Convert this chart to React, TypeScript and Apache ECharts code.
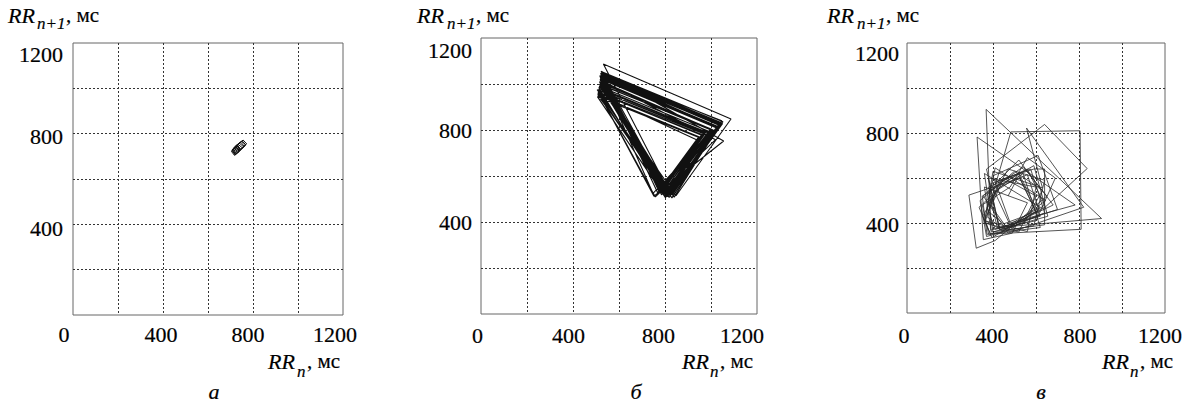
import React, { useEffect, useRef } from "react";
import * as echarts from "echarts";

// ---- data ----
const AXIS_MIN = 0;
const AXIS_MAX = 1200;
const GRID_STEP = 200;
const X_TICK_LABELS = [0, 400, 800, 1200];
const Y_TICK_LABELS = [400, 800, 1200];
const CAPTIONS = ["а", "б", "в"];
const Y_NAME = { main: "RR", sub: "n+1", unit: ", мс" };
const X_NAME = { main: "RR", sub: "n", unit: ", мс" };

// panel а: RR interval series (ms)
const RR_A = [
  722, 708, 725, 740, 726, 712, 735, 752, 738, 722, 746, 762, 744, 730, 752,
  768, 750, 734, 718, 704, 722, 738, 720, 706, 728, 745, 731, 716, 740, 758,
  742, 727, 748, 766, 753, 737, 721, 710, 730, 746, 732, 717, 738, 756, 772,
  755, 739, 724, 712, 726,
];

// panel б: RR interval series (ms), period-3 rhythm
const RR_B = [
  520, 1040, 820, 515, 1010, 800, 525, 1045, 830, 505, 975, 785, 518, 1030, 815,
  522, 1055, 752, 512, 960, 780, 528, 1035, 810, 516, 1000, 800, 520, 1047, 840,
  508, 950, 770, 524, 1040, 818, 532, 1087, 848, 514, 990, 795, 521, 1042, 822,
  517, 1020, 758, 509, 965, 785, 526, 1050, 828, 519, 1025, 812, 513, 972, 790,
  523, 1038, 820, 518, 1005, 802, 506, 945, 768, 527, 1044, 826, 520, 1030, 815,
  516, 1036, 808, 522, 1012, 798, 512, 985, 788, 525, 1046, 832, 519, 1022, 810,
  510, 962, 776, 528, 1052, 836, 515, 998, 805, 521, 1040, 818, 507, 958, 748,
  524, 1033, 824, 518, 1008, 800, 512, 978, 792, 526, 1048, 830, 520,
];

// panel в: RR interval series (ms), irregular rhythm
const RR_V = [
  470, 520, 610, 430, 380, 560, 640, 480, 370, 340, 500, 630, 545, 400, 360,
  620, 470, 390, 368, 905, 420, 380, 540, 650, 520, 410, 322, 288, 524, 600,
  450, 370, 430, 590, 640, 640, 392, 360, 560, 490, 355, 326, 782, 480, 400,
  610, 700, 460, 385, 483, 805, 810, 372, 350, 520, 620, 430, 378, 600, 560,
  362, 410, 645, 500, 395, 335, 470, 590, 655, 430, 370, 640, 838, 642, 470,
  380, 450, 600, 520, 360, 400, 630, 556, 822, 470, 355, 520, 680, 480, 390,
  575, 640, 445, 365, 410, 540, 620, 380, 350, 480, 560, 690, 600, 410, 372,
  470, 640, 590, 388, 352, 430, 560, 615, 455, 398,
];

const SERIES = [RR_A, RR_B, RR_V];

// ---- layout (positions & styles) ----
const LAYOUT = [
  {
    left: 73, top: 43, width: 270, height: 272,
    xMargin: 8, yMargin: 10,
    xShift: [-9, -2, -5, -8], yShift: [4, 2.5, 11.5],
    yName: [8, 37, 66], xName: [268, 297, 307], caption: 214,
    color: "#111", lw: 1,
  },
  {
    left: 481, top: 38, width: 276, height: 276,
    xMargin: 10, yMargin: 9,
    xShift: [-3.5, -4.5, -6.5, -15], yShift: [0.5, 0.7, 12.5],
    yName: [417, 447, 476], xName: [682, 710, 720], caption: 636,
    color: "#111", lw: 1.1,
  },
  {
    left: 907, top: 43, width: 261, height: 270,
    xMargin: 11, yMargin: 8,
    xShift: [-3, -1, 1, -5], yShift: [1.5, 0.5, 10.5],
    yName: [827, 857, 886], xName: [1102, 1130, 1140], caption: 1041,
    color: "#2a2a2a", lw: 0.8,
  },
];

const FONT = "'Liberation Serif', 'Times New Roman', serif";
const TEXT_COLOR = "#000";
const TICK_FONT_SIZE = 22;
const TEXT_BOLDEN = { textBorderColor: "#000", textBorderWidth: 0.2 };

function poincare(rr: number[]): number[][] {
  return rr.slice(0, -1).map((v, i) => [v, rr[i + 1]]);
}

function buildOption() {
  const grid: any[] = [];
  const xAxis: any[] = [];
  const yAxis: any[] = [];
  const series: any[] = [];
  const graphic: any[] = [];

  const split = {
    show: true,
    showMinLine: false,
    showMaxLine: false,
    lineStyle: { type: [2, 2], color: "#333", width: 1 },
  };

  LAYOUT.forEach((L, i) => {
    grid.push({
      left: L.left, top: L.top, width: L.width, height: L.height,
      show: true, borderColor: "#666", borderWidth: 1, backgroundColor: "transparent",
      containLabel: false,
    });

    const xRich: any = {};
    X_TICK_LABELS.forEach((v, k) => {
      const s = L.xShift[k];
      xRich["k" + v] = {
        fontFamily: FONT, fontSize: TICK_FONT_SIZE, color: TEXT_COLOR,
        lineHeight: TICK_FONT_SIZE, ...TEXT_BOLDEN,
        padding: s < 0 ? [0, -2 * s, 0, 0] : [0, 0, 0, 2 * s],
      };
    });
    const yRich: any = {};
    Y_TICK_LABELS.forEach((v, k) => {
      const d = L.yShift[k];
      yRich["k" + v] = {
        fontFamily: FONT, fontSize: TICK_FONT_SIZE, color: TEXT_COLOR,
        lineHeight: TICK_FONT_SIZE, ...TEXT_BOLDEN,
        padding: [2 * d, 0, 0, 0],
      };
    });

    xAxis.push({
      gridIndex: i, type: "value", min: AXIS_MIN, max: AXIS_MAX, interval: GRID_STEP,
      axisLine: { show: false }, axisTick: { show: false },
      splitLine: split,
      axisLabel: {
        show: true, margin: L.xMargin, showMinLabel: true, showMaxLabel: true,
        hideOverlap: false,
        fontFamily: FONT, fontSize: TICK_FONT_SIZE, color: TEXT_COLOR,
        formatter: (v: number) => (X_TICK_LABELS.includes(v) ? `{k${v}|${v}}` : ""),
        rich: xRich,
      },
    });
    yAxis.push({
      gridIndex: i, type: "value", min: AXIS_MIN, max: AXIS_MAX, interval: GRID_STEP,
      axisLine: { show: false }, axisTick: { show: false },
      splitLine: split,
      axisLabel: {
        show: true, margin: L.yMargin, showMinLabel: true, showMaxLabel: true,
        hideOverlap: false,
        fontFamily: FONT, fontSize: TICK_FONT_SIZE, color: TEXT_COLOR,
        formatter: (v: number) => (Y_TICK_LABELS.includes(v) ? `{k${v}|${v}}` : ""),
        rich: yRich,
      },
    });

    series.push({
      type: "line", xAxisIndex: i, yAxisIndex: i,
      data: poincare(SERIES[i]),
      showSymbol: false, symbol: "none", silent: true,
      lineStyle: { color: L.color, width: L.lw },
      z: 5,
    });

    const t = (x: number, y: number, text: string, size: number, italic: boolean, align = "left") => ({
      type: "text", x, y, silent: true,
      style: {
        text, fontFamily: FONT, fontSize: size, fontStyle: italic ? "italic" : "normal",
        fill: TEXT_COLOR, align, verticalAlign: "middle",
        stroke: "#000", lineWidth: 0.2,
      },
    });
    // y-axis name
    graphic.push(t(L.yName[0], 15, Y_NAME.main, 22, true));
    graphic.push(t(L.yName[1], 23.5, Y_NAME.sub, 17, true));
    graphic.push(t(L.yName[2], 15, Y_NAME.unit, 21, false));
    // x-axis name
    graphic.push(t(L.xName[0], 361.5, X_NAME.main, 22, true));
    graphic.push(t(L.xName[1], 371, X_NAME.sub, 17, true));
    graphic.push(t(L.xName[2], 361, X_NAME.unit, 21, false));
    // caption
    graphic.push(t(L.caption, 391, CAPTIONS[i], 22, true, "center"));
  });

  return {
    animation: false,
    backgroundColor: "#ffffff",
    grid, xAxis, yAxis, series, graphic,
  };
}

export default function App() {
  const ref = useRef<HTMLDivElement>(null);
  useEffect(() => {
    document.body.style.margin = "0";
    if (!ref.current) return;
    const chart = echarts.init(ref.current, undefined, { renderer: "svg" });
    chart.setOption(buildOption() as any);
    return () => chart.dispose();
  }, []);
  return <div ref={ref} style={{ width: 1195, height: 403 }} />;
}
